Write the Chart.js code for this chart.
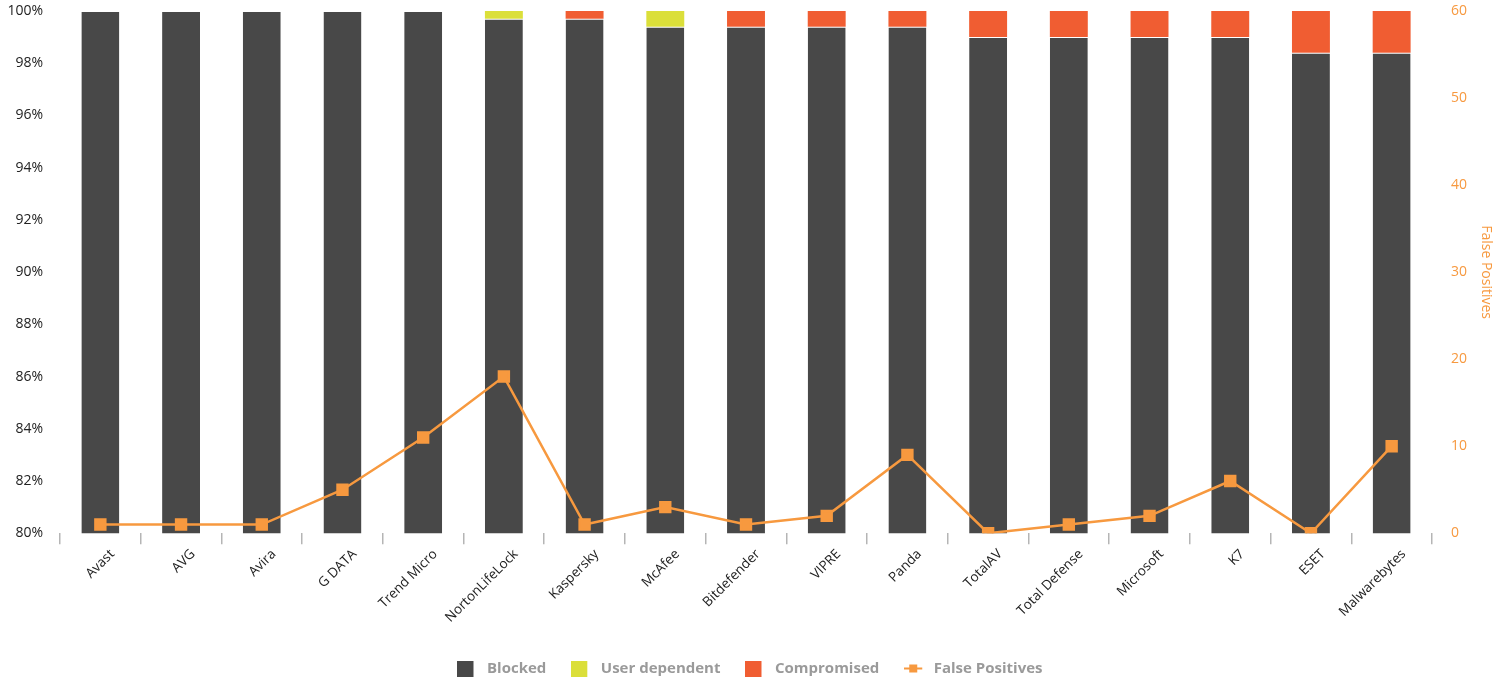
<!DOCTYPE html>
<html>
<head>
<meta charset="utf-8">
<script src="https://cdn.jsdelivr.net/npm/chart.js@4"></script>
<style>
  html, body { margin: 0; padding: 0; background: #fff; }
  #wrap { width: 1500px; height: 686px; }
</style>
</head>
<body>
<div id="wrap"><canvas id="protectionChart" width="1500" height="686"></canvas></div>
<script>
// Chart data
const vendors = ["Avast", "AVG", "Avira", "G DATA", "Trend Micro", "NortonLifeLock", "Kaspersky", "McAfee",
  "Bitdefender", "VIPRE", "Panda", "TotalAV", "Total Defense", "Microsoft", "K7", "ESET", "Malwarebytes"];
const blocked = [100, 100, 100, 100, 100, 99.7, 99.7, 99.4, 99.4, 99.4, 99.4, 99.0, 99.0, 99.0, 99.0, 98.4, 98.4];
const userDependent = [0, 0, 0, 0, 0, 0.3, 0, 0.6, 0, 0, 0, 0, 0, 0, 0, 0, 0];
const compromised = [0, 0, 0, 0, 0, 0, 0.3, 0, 0.6, 0.6, 0.6, 1.0, 1.0, 1.0, 1.0, 1.6, 1.6];
const falsePositives = [1, 1, 1, 5, 11, 18, 1, 3, 1, 2, 9, 0, 1, 2, 6, 0, 10];
const percentTicks = [80, 82, 84, 86, 88, 90, 92, 94, 96, 98, 100];
const fpTicks = [0, 10, 20, 30, 40, 50, 60];

const orange = "#f7993f";
const font = "'Open Sans', sans-serif";

// legend icons: square box / line with square marker, 22px wide so text gets a bit of room
function boxIcon(color) {
  const c = document.createElement("canvas");
  c.width = 22; c.height = 16;
  const g = c.getContext("2d");
  g.fillStyle = color;
  g.fillRect(0, 0, 16, 16);
  return c;
}
function lineIcon(color) {
  const c = document.createElement("canvas");
  c.width = 22; c.height = 12;
  const g = c.getContext("2d");
  g.fillStyle = color;
  g.fillRect(0, 5, 18, 2);
  g.fillRect(5, 2, 8, 8);
  return c;
}

const ctx = document.getElementById("protectionChart").getContext("2d");
const protectionChart = new Chart(ctx, {
  data: {
    labels: vendors,
    datasets: [
      {
        type: "bar",
        label: "Blocked",
        data: blocked,
        backgroundColor: "#484848",
        borderColor: "#ffffff",
        borderWidth: { top: 1 },
        borderSkipped: false,
        order: 1,
        legendIcon: boxIcon("#484848"),
      },
      {
        type: "bar",
        label: "User dependent",
        data: userDependent,
        backgroundColor: "#dbdf3a",
        borderWidth: 0,
        order: 1,
        legendIcon: boxIcon("#dbdf3a"),
      },
      {
        type: "bar",
        label: "Compromised",
        data: compromised,
        backgroundColor: "#f05d32",
        borderWidth: 0,
        order: 1,
        legendIcon: boxIcon("#f05d32"),
      },
      {
        type: "line",
        label: "False Positives",
        data: falsePositives,
        yAxisID: "y1",
        borderColor: orange,
        backgroundColor: orange,
        borderWidth: 2.5,
        pointStyle: "rect",
        pointRadius: 7,
        pointHoverRadius: 8,
        tension: 0,
        order: 0,
        legendIcon: lineIcon(orange),
      },
    ],
  },
  options: {
    responsive: false,
    animation: false,
    layout: { padding: { top: 11, left: 0, right: 0, bottom: 0 } },
    datasets: {
      bar: { categoryPercentage: 1, barPercentage: 0.47 },
    },
    plugins: {
      tooltip: { enabled: false },
      legend: {
        position: "bottom",
        // empty title, only used as extra space above the legend row
        title: {
          display: true,
          text: " ",
          font: { size: 1 },
          padding: { top: 0, bottom: 7 },
        },
        labels: {
          color: "#9a9a9a",
          font: { family: font, size: 15, weight: "bold" },
          usePointStyle: true,
          pointStyleWidth: 22,
          boxHeight: 16,
          padding: 25,
          sort: (a, b) => a.datasetIndex - b.datasetIndex,
          generateLabels(chart) {
            const items = Chart.defaults.plugins.legend.labels.generateLabels(chart);
            items.forEach((it) => {
              it.pointStyle = chart.data.datasets[it.datasetIndex].legendIcon;
              it.lineWidth = 0;
            });
            return items;
          },
        },
      },
    },
    scales: {
      x: {
        stacked: true,
        offset: true,
        grid: {
          display: true,
          offset: true,
          drawOnChartArea: false,
          drawTicks: true,
          tickLength: 11,
          color: "#b5b5b5",
          lineWidth: 1.5,
        },
        border: { display: false },
        ticks: {
          color: "#222",
          font: { family: font, size: 13.5 },
          maxRotation: 45,
          minRotation: 45,
          autoSkip: false,
          labelOffset: 12,
          padding: 2,
        },
      },
      y: {
        stacked: true,
        min: 80,
        max: 100,
        position: "left",
        grid: { display: false, drawTicks: false },
        border: { display: false },
        afterBuildTicks(axis) {
          axis.ticks = percentTicks.map((v) => ({ value: v }));
        },
        afterFit(axis) {
          axis.width = 60;
          axis.paddingTop = 0;
          axis.paddingBottom = 0;
        },
        ticks: {
          color: "#222",
          font: { family: font, size: 14 },
          padding: 17,
          callback: (v) => v + "%",
        },
      },
      y1: {
        min: 0,
        max: 60,
        position: "right",
        grid: { display: false, drawTicks: false },
        border: { display: false },
        afterBuildTicks(axis) {
          axis.ticks = fpTicks.map((v) => ({ value: v }));
        },
        afterFit(axis) {
          axis.width = 68;
          axis.paddingTop = 0;
          axis.paddingBottom = 0;
        },
        ticks: {
          color: orange,
          font: { family: font, size: 14 },
          padding: 19,
        },
        title: {
          display: true,
          text: "False Positives",
          color: orange,
          font: { family: font, size: 14 },
          padding: { top: 6, bottom: 0 },
        },
      },
    },
  },
});
</script>
</body>
</html>
